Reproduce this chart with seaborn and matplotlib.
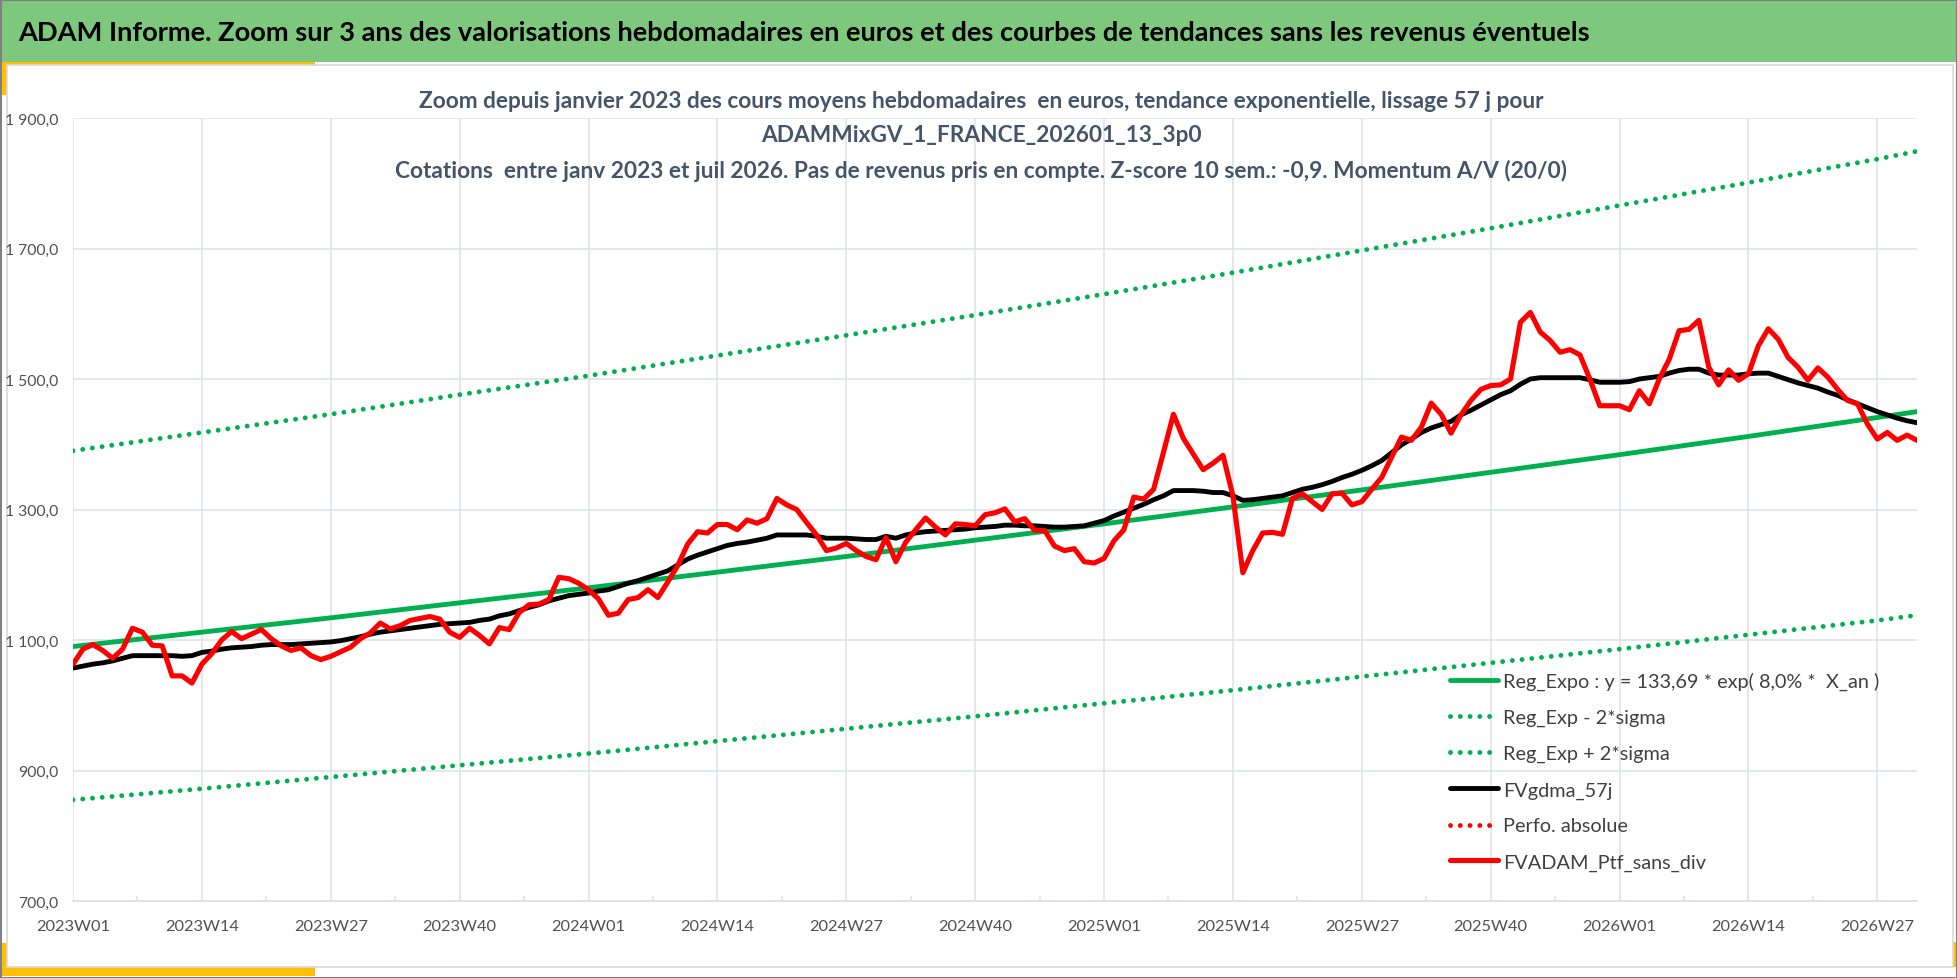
import numpy as np
import pandas as pd
import matplotlib
matplotlib.use("Agg")
import matplotlib.pyplot as plt
import seaborn as sns
from matplotlib.patches import Rectangle
from matplotlib.lines import Line2D
from matplotlib.ticker import FixedLocator, FuncFormatter

# ---- data ------------------------------------------------------------------
weeks_per_year = {2023: 52, 2024: 52, 2025: 52, 2026: 31}
categories = [f"{y}W{w:02d}" for y, n in weeks_per_year.items() for w in range(1, n + 1)]

# regression curves, read at the labelled weeks and at the last week
reg_idx = [0, 13, 26, 39, 52, 65, 78, 91, 104, 117, 130, 143, 156, 169, 182, 186]
reg_expo = [1090, 1112, 1134, 1157, 1180, 1204, 1228, 1253, 1278, 1304, 1330, 1357,
            1384, 1412, 1441, 1450]
reg_minus = [855, 872, 890, 908, 926, 945, 964, 983, 1003, 1023, 1044, 1065,
             1086, 1108, 1130, 1138]
reg_plus = [1390, 1418, 1446, 1476, 1505, 1536, 1567, 1598, 1630, 1663, 1697, 1731,
            1766, 1801, 1837, 1849]

fvgdma = [1057, 1060, 1063, 1065, 1068, 1072, 1076, 1076, 1076, 1076, 1076, 1075, 1076,
          1081, 1083, 1086, 1088, 1089, 1090, 1092, 1093, 1093, 1093, 1094, 1095, 1096,
          1097, 1099, 1102, 1105, 1109, 1112, 1114, 1116, 1118, 1120, 1122, 1124, 1125,
          1126, 1127, 1130, 1132, 1137, 1140, 1145, 1150, 1154, 1160, 1164, 1168, 1170,
          1172, 1175, 1177, 1182, 1187, 1191, 1196, 1201, 1206, 1215, 1224, 1230, 1235,
          1240, 1245, 1248, 1250, 1253, 1256, 1261, 1261, 1261, 1261, 1259, 1256, 1256,
          1256, 1255, 1254, 1254, 1259, 1256, 1261, 1264, 1266, 1267, 1268, 1269, 1270,
          1272, 1273, 1274, 1276, 1276, 1275, 1275, 1274, 1273, 1273, 1274, 1275, 1279,
          1283, 1290, 1296, 1302, 1308, 1315, 1321, 1329, 1329, 1329, 1328, 1326, 1326,
          1321, 1314, 1315, 1317, 1319, 1321, 1326, 1331, 1334, 1338, 1343, 1349, 1354,
          1360, 1367, 1375, 1387, 1399, 1408, 1418, 1425, 1430, 1435, 1445, 1452, 1460,
          1468, 1476, 1482, 1492, 1500, 1502, 1502, 1502, 1502, 1502, 1499, 1495, 1495,
          1495, 1496, 1500, 1502, 1504, 1509, 1513, 1515, 1515, 1509, 1506, 1506, 1506,
          1508, 1509, 1509, 1504, 1499, 1494, 1490, 1486, 1480, 1475, 1468, 1462, 1456,
          1450, 1445, 1440, 1436, 1433]

fvadam = [1063, 1086, 1093, 1084, 1072, 1086, 1118, 1112, 1092, 1091, 1045, 1045, 1034,
          1063, 1079, 1100, 1113, 1102, 1109, 1116, 1102, 1091, 1084, 1088, 1076, 1070,
          1075, 1082, 1089, 1102, 1111, 1126, 1117, 1122, 1130, 1133, 1136, 1132, 1112,
          1104, 1118, 1107, 1094, 1119, 1116, 1142, 1154, 1155, 1162, 1196, 1194, 1187,
          1177, 1163, 1138, 1141, 1162, 1165, 1177, 1165, 1189, 1214, 1247, 1266, 1264,
          1277, 1277, 1269, 1284, 1279, 1286, 1317, 1307, 1300, 1280, 1261, 1237, 1241,
          1248, 1237, 1228, 1223, 1257, 1220, 1250, 1269, 1287, 1273, 1261, 1278, 1277,
          1275, 1292, 1295, 1301, 1281, 1286, 1268, 1268, 1244, 1237, 1240, 1220, 1218,
          1225, 1252, 1269, 1319, 1316, 1331, 1388, 1446, 1409, 1385, 1361, 1371, 1383,
          1321, 1203, 1237, 1264, 1265, 1262, 1317, 1324, 1312, 1300, 1324, 1325, 1307,
          1312, 1331, 1349, 1380, 1411, 1406, 1426, 1463, 1446, 1417, 1445, 1467, 1484,
          1490, 1491, 1500, 1587, 1602, 1572, 1559, 1541, 1545, 1537, 1500, 1459, 1459,
          1459, 1453, 1482, 1462, 1500, 1530, 1574, 1576, 1590, 1518, 1491, 1514, 1498,
          1508, 1551, 1577, 1561, 1533, 1518, 1498, 1517, 1503, 1484, 1467, 1462, 1431,
          1408, 1418, 1406, 1414, 1406]

y_ticks = [700, 900, 1100, 1300, 1500, 1700, 1900]

labels = ["Reg_Expo : y = 133,69 * exp( 8,0% *  X_an )", "Reg_Exp - 2*sigma",
          "Reg_Exp + 2*sigma", "FVgdma_57j", "Perfo. absolue", "FVADAM_Ptf_sans_div"]

banner = ("ADAM Informe. Zoom sur 3 ans des valorisations hebdomadaires en euros "
          "et des courbes de tendances sans les revenus éventuels")
title_lines = [
    "Zoom depuis janvier 2023 des cours moyens hebdomadaires  en euros, tendance exponentielle, lissage 57 j pour",
    "ADAMMixGV_1_FRANCE_202601_13_3p0",
    "Cotations  entre janv 2023 et juil 2026. Pas de revenus pris en compte. Z-score 10 sem.: -0,9. Momentum A/V (20/0)",
]

weekly = pd.DataFrame({"idx": np.arange(len(categories)), "week": categories,
                       "FVgdma_57j": fvgdma, "FVADAM_Ptf_sans_div": fvadam})

# ---- styling ---------------------------------------------------------------
GREEN = "#00B050"
RED = "#FF0000"
GRID = "#DDE0E6"
YELLOW = "#FFC000"
BANNER = "#7DC87D"
TXT = "#505050"
TITLE = "#44546A"

W, H = 1958, 979

sns.set_theme(style="white")
plt.rcParams["font.family"] = ["Lato", "DejaVu Sans"]

fig = plt.figure(figsize=(W / 100, H / 100), dpi=100)
fig.patch.set_facecolor("white")


def fxp(x):
    return x / W


def fyp(y):
    return 1 - y / H


def box(x0, y0, x1, y1, color, z, ec="none", lw=0):
    fig.add_artist(Rectangle((fxp(x0), fyp(y1)), fxp(x1) - fxp(x0), fyp(y0) - fyp(y1),
                             transform=fig.transFigure, facecolor=color, edgecolor=ec,
                             linewidth=lw, zorder=z))


# background decoration
box(0, 63, 315, 66, YELLOW, -4)
box(0, 63, 7, 96, YELLOW, -4)
box(0, 944, 7, 977, YELLOW, -4)
box(0, 968, 315, 977, YELLOW, -4)
box(1953, 943, 1957, 968, YELLOW, -4)
box(7, 66, 1953, 968, "white", -3, ec="#D9D9D9", lw=1.2)
box(0, 0, W, 63, BANNER, -2)
box(0.5, 0.5, W - 0.5, H - 0.5, "none", 10, ec="#808080", lw=1.5)

ax = fig.add_axes([fxp(73), fyp(902), fxp(1917) - fxp(73), fyp(119) - fyp(902)])
ax.set_facecolor("none")

LW = 3.5
dot = (0, (0.01, 2.0))
sns.lineplot(x=reg_idx, y=reg_expo, ax=ax, color=GREEN, linewidth=LW,
             solid_capstyle="round", solid_joinstyle="round")
sns.lineplot(x=reg_idx, y=reg_minus, ax=ax, color=GREEN, linewidth=LW,
             linestyle=dot, dash_capstyle="round")
sns.lineplot(x=reg_idx, y=reg_plus, ax=ax, color=GREEN, linewidth=LW,
             linestyle=dot, dash_capstyle="round")
sns.lineplot(data=weekly, x="idx", y="FVgdma_57j", ax=ax, color="black", linewidth=LW,
             solid_capstyle="round", solid_joinstyle="round")
sns.lineplot(data=weekly, x="idx", y="FVADAM_Ptf_sans_div", ax=ax, color=RED,
             linewidth=3.7, solid_capstyle="round", solid_joinstyle="round")

ax.set_xlim(0, len(categories) - 1)
ax.set_ylim(700, 1900)
ax.set_xlabel("")
ax.set_ylabel("")

major = list(range(0, len(categories), 13))
ax.xaxis.set_major_locator(FixedLocator(major))
ax.xaxis.set_minor_locator(FixedLocator([m + 6.5 for m in major if m + 6.5 < len(categories)]))
ax.set_xticklabels([categories[m] for m in major])
ax.set_yticks(y_ticks)
ax.yaxis.set_major_formatter(FuncFormatter(
    lambda v, p: f"{v:,.1f}".replace(",", " ").replace(".", ",")))

ax.grid(True, which="major", color=GRID, linewidth=1.1)
ax.set_axisbelow(True)
for s in ["top", "right", "left"]:
    ax.spines[s].set_visible(False)
ax.spines["bottom"].set_color(GRID)
ax.spines["bottom"].set_linewidth(1.3)

ax.tick_params(axis="x", which="major", length=0, pad=13, labelsize=11.8, labelcolor=TXT)
ax.tick_params(axis="x", which="minor", direction="in", length=3.6, width=1.1, color=GRID,
               bottom=True)
ax.tick_params(axis="y", length=0, pad=10.5, labelsize=11.3, labelcolor=TXT)

renderer = fig.canvas.get_renderer()


def fit(t, target):
    w = t.get_window_extent(renderer).width
    t.set_fontsize(t.get_fontsize() * target / w)


# banner and chart title
t = fig.text(fxp(18), fyp(33), banner, ha="left", va="center", fontsize=18,
             fontweight="bold", color="black")
fit(t, 1578)

title_texts = []
for line, y in zip(title_lines, [101, 136, 171]):
    title_texts.append(fig.text(fxp(981), fyp(y), line, ha="center", va="center",
                                fontsize=14, fontweight="bold", color=TITLE))
fit(title_texts[2], 1180)
for tt in title_texts:
    tt.set_fontsize(title_texts[2].get_fontsize())

# legend
probe = fig.text(0, 0, labels[0], fontsize=16)
fit(probe, 377)
leg_fs = probe.get_fontsize()
probe_h = probe.get_window_extent(renderer).height
probe.remove()
fs_px = leg_fs * 100 / 72

handles = [
    Line2D([], [], color=GREEN, lw=LW, solid_capstyle="round"),
    Line2D([], [], color=GREEN, lw=LW, ls=dot, dash_capstyle="round"),
    Line2D([], [], color=GREEN, lw=LW, ls=dot, dash_capstyle="round"),
    Line2D([], [], color="black", lw=LW, solid_capstyle="round"),
    Line2D([], [], color=RED, lw=LW, ls=dot, dash_capstyle="round"),
    Line2D([], [], color=RED, lw=3.7, solid_capstyle="round"),
]
leg = ax.legend(handles, labels, loc="upper left", bbox_to_anchor=(fxp(1450), fyp(682 - probe_h / 2)),
                bbox_transform=fig.transFigure, frameon=False, fontsize=leg_fs,
                handlelength=48 / fs_px, handletextpad=5 / fs_px,
                labelspacing=(37.2 - probe_h) / fs_px, borderpad=0, borderaxespad=0)
for txt in leg.get_texts():
    txt.set_color("#404040")

fig.savefig("out.png", dpi=100, facecolor="white")
